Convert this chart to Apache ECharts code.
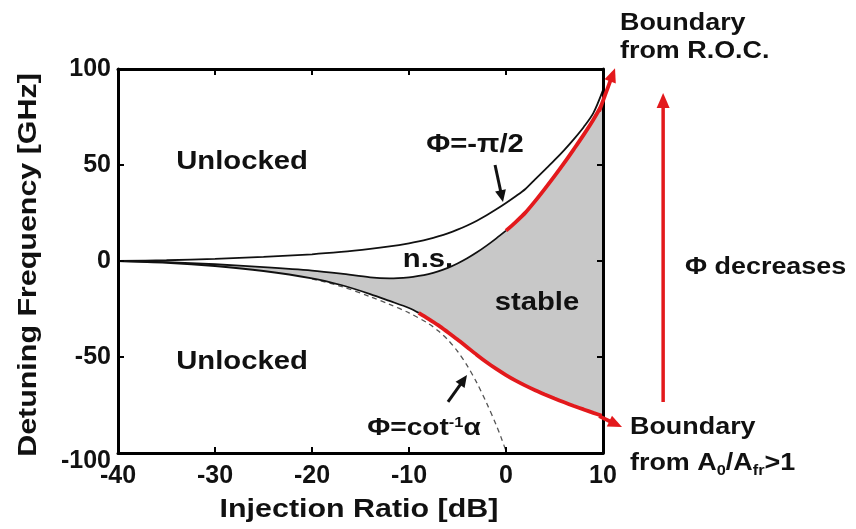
<!DOCTYPE html>
<html><head><meta charset="utf-8">
<script src="https://cdn.jsdelivr.net/npm/echarts@6/dist/echarts.min.js"></script>
<style>html,body{margin:0;padding:0;background:#fff}#c{width:856px;height:529px}</style>
</head><body><div id="c"></div>
<script>
// ---- data ----
const xTicks = [-40, -30, -20, -10, 0, 10];
const yTicks = [-100, -50, 0, 50, 100];
const xs = [-40,-35,-30,-25,-20,-17,-14,-12,-10,-9,-8,-7,-6,-5,-4,-3,-2,-1,0,1,2,3,4,5,6,7,8,9,10];
// Phi = -pi/2 curve (upper black)
const upperPhi = [0,0.4,1.1,2.2,3.5,4.7,6.3,7.6,9.2,10.2,11.4,12.8,14.4,16.3,18.5,21,23.8,26.9,30.2,33.7,37.5,42.5,47.5,52.5,57.8,63.5,69.7,77,89];
// upper edge of the stable (grey) region / lower edge of n.s.
const stableTop = [0,-0.6,-1.7,-3.2,-5,-6.6,-8.5,-9,-8.5,-7.8,-6.8,-5.4,-3.6,-1.3,1.4,4.5,8,11.8,15.8,20.3,25.2,31.2,37.6,44.2,51.1,58.3,65.7,73.6,82.3];
// lower edge of the stable region
const stableBottom = [0,-0.9,-2.6,-5.2,-9,-12.5,-17.2,-20.8,-24.5,-27,-30.1,-33.4,-37.1,-40.9,-44.9,-48.9,-52.7,-56.2,-59.4,-62.3,-64.9,-67.3,-69.5,-71.6,-73.6,-75.5,-77.3,-79.1,-80.8];
// Phi = cot^-1 alpha (dashed)
const cotX = [-20,-17,-14,-12,-10,-8,-7,-6,-5,-4,-3,-2,-1,-0.5,0];
const cotY = [-9.3,-13.2,-18.6,-22.6,-27,-32.6,-36.3,-41,-47,-54.5,-63.5,-74,-85.5,-92,-99];
const redTopFrom = 0;      // R.O.C. boundary starts here
const redBottomFrom = -9;  // A0/Afr>1 boundary starts here

function pairs(xa, ya, from, to) {
  return xa.map((x, i) => [x, ya[i]]).filter(p => p[0] >= from && p[0] <= to);
}

const BLACK = '#111';
const RED = '#e3191c';
const FONT = '"Liberation Sans", Arial, sans-serif';
const SMOOTH = 0.3;

const axisCommon = {
  type: 'value', z: 10,
  axisLine: { show: true, onZero: false, lineStyle: { color: '#000', width: 3 } },
  axisTick: { show: true, inside: true, length: 6, lineStyle: { color: '#000', width: 2 } },
  splitLine: { show: false }
};

const option = {
  animation: false,
  backgroundColor: '#fff',
  grid: { left: 118, top: 69, width: 485, height: 384 },
  xAxis: [
    Object.assign({}, axisCommon, {
      position: 'bottom', min: xTicks[0], max: xTicks[xTicks.length - 1], interval: 10,
      axisLabel: { color: BLACK, fontSize: 25, fontWeight: 'bold', fontFamily: FONT, margin: 11 }
    }),
    Object.assign({}, axisCommon, {
      position: 'top', min: xTicks[0], max: xTicks[xTicks.length - 1], interval: 10,
      axisLabel: { show: false }
    })
  ],
  yAxis: [
    Object.assign({}, axisCommon, {
      position: 'left', min: yTicks[0], max: yTicks[yTicks.length - 1], interval: 50,
      axisLabel: {
        color: BLACK, fontSize: 25, fontWeight: 'bold', fontFamily: FONT, margin: 7,
        formatter: v => v === yTicks[0] ? '{low|' + v + '}' : String(v),
        rich: { low: { color: BLACK, fontSize: 25, fontWeight: 'bold', fontFamily: FONT, padding: [16, 0, 0, 0] } }
      }
    }),
    Object.assign({}, axisCommon, {
      position: 'right', min: yTicks[0], max: yTicks[yTicks.length - 1], interval: 50,
      axisLabel: { show: false }
    })
  ],
  series: [
    {
      type: 'custom', coordinateSystem: 'cartesian2d', xAxisIndex: 0, yAxisIndex: 0,
      data: [[0, 0]], z: 1, silent: true,
      renderItem: function (params, api) {
        const pts = [];
        for (let i = 0; i < xs.length; i++) pts.push(api.coord([xs[i], stableTop[i]]));
        for (let i = xs.length - 1; i >= 0; i--) pts.push(api.coord([xs[i], stableBottom[i]]));
        return { type: 'polygon', shape: { points: pts }, style: { fill: '#c8c8c8', stroke: null } };
      }
    },
    { type: 'line', name: 'Φ=-π/2', data: pairs(xs, upperPhi, -40, 10), symbol: 'none', smooth: SMOOTH,
      lineStyle: { color: BLACK, width: 1.8 }, z: 3 },
    { type: 'line', name: 'n.s. edge', data: pairs(xs, stableTop, -40, redTopFrom), symbol: 'none', smooth: SMOOTH,
      lineStyle: { color: BLACK, width: 1.8 }, z: 3 },
    { type: 'line', name: 'Boundary from R.O.C.', data: pairs(xs, stableTop, redTopFrom, 10), symbol: 'none', smooth: SMOOTH,
      lineStyle: { color: RED, width: 3.8 }, z: 4 },
    { type: 'line', name: 'lower edge', data: pairs(xs, stableBottom, -40, redBottomFrom), symbol: 'none', smooth: SMOOTH,
      lineStyle: { color: BLACK, width: 1.8 }, z: 3 },
    { type: 'line', name: 'Boundary from A0/Afr>1', data: pairs(xs, stableBottom, redBottomFrom, 10), symbol: 'none', smooth: SMOOTH,
      lineStyle: { color: RED, width: 3.8 }, z: 4 },
    { type: 'line', name: 'Φ=cot⁻¹α', data: pairs(cotX, cotY, -40, 10), symbol: 'none', smooth: SMOOTH,
      lineStyle: { color: '#555', width: 1.3, type: [5, 4] }, z: 2 }
  ]
};

const chart = echarts.init(document.getElementById('c'));
chart.setOption(option);

function arrow(from, to, color, width, headLen, headHalf) {
  const p0 = chart.convertToPixel({ gridIndex: 0 }, from);
  const p1 = chart.convertToPixel({ gridIndex: 0 }, to);
  const dx = p1[0] - p0[0], dy = p1[1] - p0[1];
  const L = Math.hypot(dx, dy), ux = dx / L, uy = dy / L;
  const bx = p1[0] - ux * headLen, by = p1[1] - uy * headLen;
  return [
    { type: 'line', z: 50, shape: { x1: p0[0], y1: p0[1], x2: bx + ux, y2: by + uy },
      style: { stroke: color, lineWidth: width } },
    { type: 'polygon', z: 50, shape: { points: [[p1[0], p1[1]], [bx - uy * headHalf, by + ux * headHalf], [bx + uy * headHalf, by - ux * headHalf]] },
      style: { fill: color } }
  ];
}

const SX = 1.17;
function txt(text, x, y, size, align, extra) {
  return Object.assign({
    type: 'text', x: x, y: y, z: 60, scaleX: SX,
    style: { text: text, fill: BLACK, font: 'bold ' + size + 'px ' + FONT, align: align, verticalAlign: 'middle' }
  }, extra || {});
}

const graphics = [].concat(
  arrow([-1.13, 50], [-0.31, 30.7], BLACK, 3, 12, 5.5),
  arrow([-5.98, -73.4], [-4.02, -59.4], BLACK, 3, 12, 5.5),
  arrow([9.6, 78], [11.24, 100.4], RED, 3.8, 14, 6),
  arrow([9.6, -80.8], [11.96, -86.5], RED, 3.8, 14, 6),
  arrow([16.2, -73.4], [16.2, 87.5], RED, 3.5, 15, 6.5),
  [
    txt('Detuning Frequency [GHz]', 29, 265, 26, 'center', { rotation: Math.PI / 2 }),
    txt('Injection Ratio [dB]', 359, 510, 26, 'center'),
    txt('Unlocked', 242, 162, 25, 'center'),
    txt('Unlocked', 242, 362, 25, 'center'),
    txt('Φ=-π/2', 475, 145, 25, 'center'),
    txt('n.s.', 428, 260, 25, 'center'),
    txt('stable', 537, 303, 25, 'center'),
    {
      type: 'text', x: 424, y: 428, z: 60, scaleX: SX,
      style: {
        text: 'Φ=cot{sup|-1}α', fill: BLACK, font: 'bold 24px ' + FONT, align: 'center', verticalAlign: 'middle',
        rich: { sup: { fill: BLACK, font: 'bold 14px ' + FONT, verticalAlign: 'top' } }
      }
    },
    txt('Boundary', 620, 24, 23, 'left'),
    txt('from R.O.C.', 620, 52, 23, 'left'),
    txt('Boundary', 630, 428, 23, 'left'),
    {
      type: 'text', x: 630, y: 464, z: 60, scaleX: SX,
      style: {
        text: 'from A{sub|0}/A{sub|fr}>1', fill: BLACK, font: 'bold 23px ' + FONT, align: 'left', verticalAlign: 'middle',
        lineHeight: 28,
        rich: { sub: { fill: BLACK, font: 'bold 14px ' + FONT, verticalAlign: 'bottom', lineHeight: 28 } }
      }
    },
    txt('Φ decreases', 685, 268, 23, 'left')
  ]
);

chart.setOption({ graphic: graphics });
</script>
</body></html>
